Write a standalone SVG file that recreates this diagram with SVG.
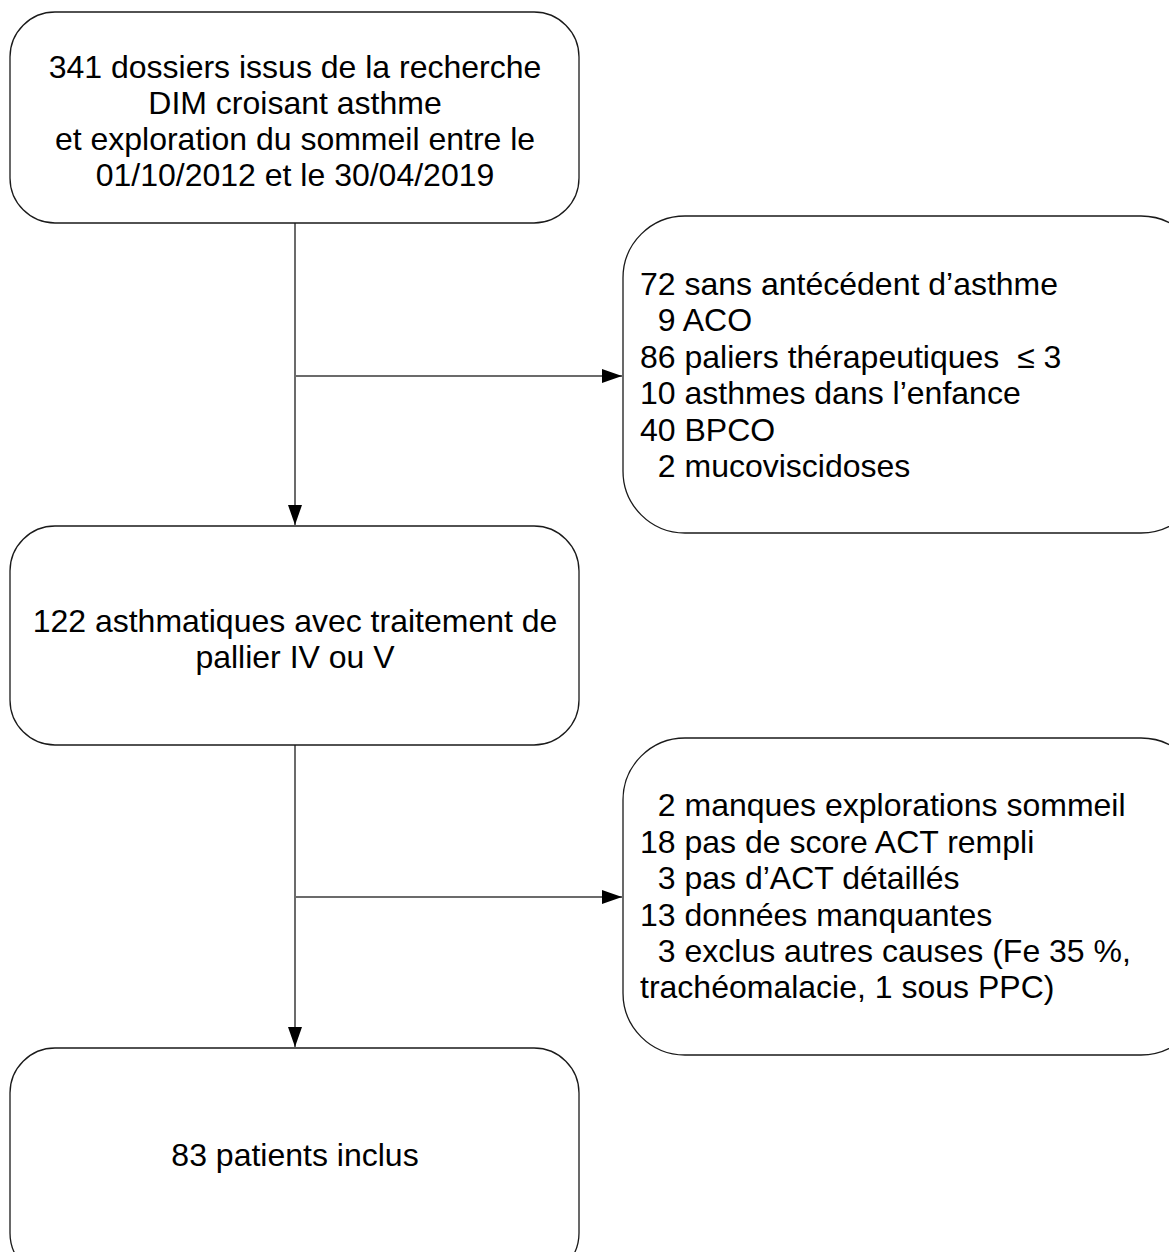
<svg xmlns="http://www.w3.org/2000/svg" width="1169" height="1252" viewBox="0 0 1169 1252">
<style>
.box{fill:#fff;stroke:#1a1a1a;stroke-width:1.3}
.t{font-family:"Liberation Sans",Arial,sans-serif;font-size:32px;fill:#000}
.c{text-anchor:middle}
.l{white-space:pre}
.edge{stroke:#6b6b6b;stroke-width:2;fill:none}
</style>
<defs>
<marker id="ahd" markerWidth="20" markerHeight="16" refX="20" refY="8" orient="auto" markerUnits="userSpaceOnUse" viewBox="0 0 20 16">
<path d="M0,1 L20,8 L0,15 Z" fill="#000"/>
</marker>
</defs>
<rect width="1169" height="1252" fill="#fff"/>
<g id="connectors">
<line class="edge" x1="295" y1="223" x2="295" y2="525" marker-end="url(#ahd)"/>
<line class="edge" x1="295" y1="376" x2="622" y2="376" marker-end="url(#ahd)"/>
<line class="edge" x1="295" y1="745" x2="295" y2="1047" marker-end="url(#ahd)"/>
<line class="edge" x1="295" y1="897" x2="622" y2="897" marker-end="url(#ahd)"/>
</g>
<g id="n1">
<rect class="box" x="10" y="12" width="569" height="211" rx="45" ry="45"/>
<text class="t c" x="295" y="78">341 dossiers issus de la recherche</text>
<text class="t c" x="295" y="114">DIM croisant asthme</text>
<text class="t c" x="295" y="150">et exploration du sommeil entre le</text>
<text class="t c" x="295" y="186">01/10/2012 et le 30/04/2019</text>
</g>
<g id="n2">
<rect class="box" x="623" y="216" width="580" height="317" rx="62" ry="62"/>
<text class="t l" x="640" y="295">72 sans antécédent d’asthme</text>
<text class="t l" x="640" y="331">  9 ACO</text>
<text class="t l" x="640" y="368">86 paliers thérapeutiques  ≤ 3</text>
<text class="t l" x="640" y="404">10 asthmes dans l’enfance</text>
<text class="t l" x="640" y="441">40 BPCO</text>
<text class="t l" x="640" y="477">  2 mucoviscidoses</text>
</g>
<g id="n3">
<rect class="box" x="10" y="526" width="569" height="219" rx="45" ry="45"/>
<text class="t c" x="295" y="632">122 asthmatiques avec traitement de</text>
<text class="t c" x="295" y="668">pallier IV ou V</text>
</g>
<g id="n4">
<rect class="box" x="623" y="738" width="580" height="317" rx="62" ry="62"/>
<text class="t l" x="640" y="816">  2 manques explorations sommeil</text>
<text class="t l" x="640" y="853">18 pas de score ACT rempli</text>
<text class="t l" x="640" y="889">  3 pas d’ACT détaillés</text>
<text class="t l" x="640" y="926">13 données manquantes</text>
<text class="t l" x="640" y="962">  3 exclus autres causes (Fe 35 %,</text>
<text class="t l" x="640" y="998">trachéomalacie, 1 sous PPC)</text>
</g>
<g id="n5">
<rect class="box" x="10" y="1048" width="569" height="230" rx="45" ry="45"/>
<text class="t c" x="295" y="1166">83 patients inclus</text>
</g>
</svg>
